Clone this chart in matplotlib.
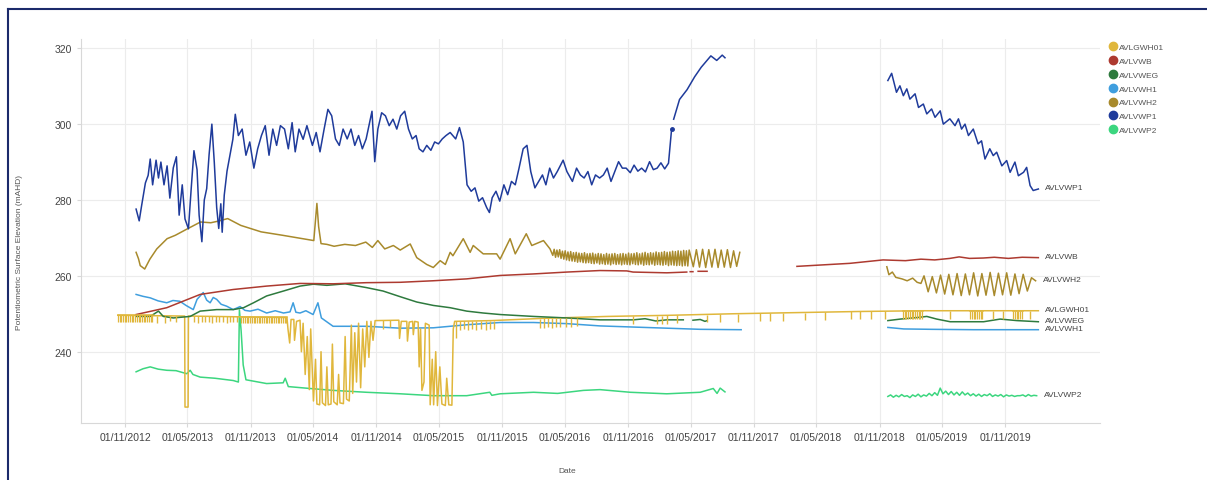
import numpy as np
import pandas as pd
import matplotlib
matplotlib.use("Agg")
import matplotlib.pyplot as plt
from matplotlib.lines import Line2D

plt.rcParams["font.family"] = ["Liberation Sans", "DejaVu Sans"]

# --- Data: (date, mAHD), None breaks the line ---
wp1 = [
    ("2012-12-03", 277.6), ("2012-12-12", 274.5), ("2012-12-19", 278.5), ("2012-12-30", 284.5),
    ("2013-01-07", 286.5), ("2013-01-13", 290.8), ("2013-01-20", 284.0), ("2013-01-30", 290.5),
    ("2013-02-06", 285.8), ("2013-02-13", 290.0), ("2013-02-22", 284.0), ("2013-03-03", 289.0),
    ("2013-03-11", 280.5), ("2013-03-21", 288.5), ("2013-03-30", 291.4), ("2013-04-07", 276.0),
    ("2013-04-16", 284.0), ("2013-04-24", 275.0), ("2013-05-04", 272.4), ("2013-05-12", 283.0),
    ("2013-05-20", 293.0), ("2013-05-29", 288.0), ("2013-06-04", 276.0), ("2013-06-12", 269.0),
    ("2013-06-19", 280.0), ("2013-06-26", 283.0), ("2013-07-03", 292.0), ("2013-07-11", 300.0),
    ("2013-07-18", 290.0), ("2013-07-25", 278.0), ("2013-07-31", 272.5), ("2013-08-06", 279.0),
    ("2013-08-10", 271.5), ("2013-08-16", 281.3), ("2013-08-24", 287.6), ("2013-09-02", 292.0),
    ("2013-09-10", 296.0), ("2013-09-17", 302.6), ("2013-09-26", 297.0), ("2013-10-07", 298.7),
    ("2013-10-18", 291.8), ("2013-10-29", 295.3), ("2013-11-10", 288.4), ("2013-11-21", 293.5),
    ("2013-12-02", 297.0), ("2013-12-13", 299.6), ("2013-12-24", 291.8), ("2014-01-04", 298.7),
    ("2014-01-15", 294.4), ("2014-01-26", 299.6), ("2014-02-07", 298.7), ("2014-02-18", 293.5),
    ("2014-03-01", 300.4), ("2014-03-10", 292.7), ("2014-03-21", 298.7), ("2014-04-02", 296.0),
    ("2014-04-13", 299.6), ("2014-04-29", 294.4), ("2014-05-10", 297.8), ("2014-05-21", 292.7),
    ("2014-06-02", 298.7), ("2014-06-13", 303.9), ("2014-06-24", 302.2), ("2014-07-05", 296.1),
    ("2014-07-16", 294.4), ("2014-07-27", 298.7), ("2014-08-08", 296.1), ("2014-08-19", 298.7),
    ("2014-08-30", 294.4), ("2014-09-10", 297.0), ("2014-09-21", 293.5), ("2014-10-02", 296.1),
    ("2014-10-19", 303.4), ("2014-10-27", 290.1), ("2014-11-05", 298.7), ("2014-11-16", 303.0),
    ("2014-11-27", 302.2), ("2014-12-08", 299.6), ("2014-12-19", 301.3), ("2014-12-30", 298.7),
    ("2015-01-10", 302.2), ("2015-01-22", 303.4), ("2015-02-02", 298.7), ("2015-02-13", 296.1),
    ("2015-02-24", 297.0), ("2015-03-05", 293.5), ("2015-03-16", 292.7), ("2015-03-27", 294.4),
    ("2015-04-08", 293.1), ("2015-04-19", 295.3), ("2015-04-30", 294.8), ("2015-05-11", 296.1),
    ("2015-05-22", 297.0), ("2015-06-03", 297.8), ("2015-06-19", 296.1), ("2015-06-30", 299.1),
    ("2015-07-11", 295.3), ("2015-07-22", 284.0), ("2015-08-03", 282.3), ("2015-08-14", 283.2),
    ("2015-08-25", 279.7), ("2015-09-05", 280.6), ("2015-09-17", 278.0), ("2015-09-25", 276.7),
    ("2015-10-03", 280.6), ("2015-10-14", 282.3), ("2015-10-25", 279.7), ("2015-11-06", 284.0),
    ("2015-11-17", 281.4), ("2015-11-28", 284.9), ("2015-12-09", 284.0), ("2015-12-20", 288.4),
    ("2016-01-01", 293.5), ("2016-01-12", 294.4), ("2016-01-23", 287.5), ("2016-02-04", 283.2),
    ("2016-02-15", 284.9), ("2016-02-26", 286.6), ("2016-03-07", 284.0), ("2016-03-18", 288.4),
    ("2016-03-29", 285.8), ("2016-04-09", 287.5), ("2016-04-26", 290.5), ("2016-05-07", 287.5),
    ("2016-05-23", 284.9), ("2016-06-04", 288.4), ("2016-06-15", 286.6), ("2016-06-26", 285.8),
    ("2016-07-07", 287.5), ("2016-07-18", 284.0), ("2016-07-29", 286.6), ("2016-08-10", 285.8),
    ("2016-08-21", 286.6), ("2016-09-01", 288.4), ("2016-09-12", 284.9), ("2016-09-23", 287.5),
    ("2016-10-04", 290.1), ("2016-10-15", 288.4), ("2016-10-26", 288.4), ("2016-11-07", 287.2),
    ("2016-11-18", 289.2), ("2016-11-29", 287.6), ("2016-12-10", 288.4), ("2016-12-21", 287.4),
    ("2017-01-02", 290.1), ("2017-01-13", 288.0), ("2017-01-24", 288.4), ("2017-02-04", 289.8),
    ("2017-02-15", 288.2), ("2017-02-26", 289.7), ("2017-03-07", 298.7), (None, None),
    ("2017-03-13", 301.3), ("2017-03-30", 306.5), ("2017-04-21", 309.1), ("2017-05-13", 312.5),
    ("2017-06-01", 315.0), ("2017-06-29", 318.0), ("2017-07-16", 316.8), ("2017-08-01", 318.2),
    ("2017-08-09", 317.5), (None, None),
    ("2018-11-25", 311.5), ("2018-12-06", 313.4), ("2018-12-20", 308.4), ("2018-12-30", 310.1),
    ("2019-01-09", 307.5), ("2019-01-19", 309.3), ("2019-01-28", 306.6), ("2019-02-12", 308.0),
    ("2019-02-22", 304.4), ("2019-03-08", 305.3), ("2019-03-18", 302.7), ("2019-04-01", 304.0),
    ("2019-04-11", 301.8), ("2019-04-26", 303.5), ("2019-05-05", 300.0), ("2019-05-24", 301.4),
    ("2019-06-08", 299.6), ("2019-06-18", 301.4), ("2019-06-27", 298.7), ("2019-07-07", 300.0),
    ("2019-07-17", 297.0), ("2019-07-31", 298.7), ("2019-08-14", 294.8), ("2019-08-24", 295.6),
    ("2019-09-03", 290.8), ("2019-09-17", 293.5), ("2019-09-27", 291.7), ("2019-10-07", 292.6),
    ("2019-10-22", 289.0), ("2019-11-05", 290.4), ("2019-11-15", 287.3), ("2019-11-29", 290.0),
    ("2019-12-09", 286.4), ("2019-12-24", 287.3), ("2020-01-02", 288.6), ("2020-01-12", 283.8),
    ("2020-01-21", 282.5), ("2020-02-05", 282.9),
]
wp1_dot = ("2017-03-08", 298.7)

wh2_early = [
    ("2012-12-03", 266.2), ("2012-12-10", 264.5), ("2012-12-15", 262.7), ("2012-12-28", 261.8),
    ("2013-01-12", 264.4), ("2013-02-01", 267.1), ("2013-03-03", 269.8), ("2013-03-27", 270.7),
    ("2013-05-01", 272.4), ("2013-06-08", 274.2), ("2013-07-08", 274.0), ("2013-07-28", 274.4),
    ("2013-08-26", 275.1), ("2013-10-03", 273.3), ("2013-12-01", 271.6), ("2014-02-01", 270.7),
    ("2014-04-01", 269.8), ("2014-05-03", 269.3), ("2014-05-12", 279.1), ("2014-05-17", 273.0),
    ("2014-05-24", 268.5), ("2014-06-10", 268.3), ("2014-07-01", 267.8), ("2014-08-01", 268.3),
    ("2014-09-01", 268.0), ("2014-10-01", 268.9), ("2014-10-20", 267.5), ("2014-11-05", 269.3),
    ("2014-11-25", 267.1), ("2014-12-20", 268.0), ("2015-01-09", 266.8), ("2015-02-07", 268.4),
    ("2015-02-26", 264.8), ("2015-03-27", 263.0), ("2015-04-15", 262.2), ("2015-05-05", 264.0),
    ("2015-05-20", 263.0), ("2015-06-03", 266.2), ("2015-06-11", 265.3), ("2015-07-11", 269.8),
    ("2015-07-31", 266.2), ("2015-08-09", 268.0), ("2015-09-07", 265.8), ("2015-10-16", 265.8),
    ("2015-10-26", 264.4), ("2015-11-24", 269.8), ("2015-12-09", 265.8), ("2016-01-10", 271.1),
    ("2016-01-26", 268.0), ("2016-02-29", 269.3), ("2016-03-19", 267.1),
]
wh2_band = [  # every 4 days from 2016-03-27
    265.4, 267.0, 264.9, 266.8, 265.0, 266.9, 264.6, 266.5, 264.4, 266.6,
    264.2, 266.3, 264.0, 266.4, 263.9, 266.1, 263.8, 266.2, 263.6, 266.0,
    263.7, 265.9, 263.5, 266.1, 263.4, 265.8, 263.5, 265.9, 263.3, 266.0,
    263.2, 265.7, 263.4, 265.9, 263.1, 265.8, 263.2, 265.6, 263.0, 265.9,
    263.1, 265.7, 262.9, 265.8, 263.2, 265.9, 263.0, 265.6, 263.1, 265.8,
    262.9, 265.9, 263.1, 265.7, 263.0, 266.0, 262.9, 265.8, 263.2, 265.9,
    263.0, 266.1, 262.9, 265.8, 263.1, 266.0, 262.8, 266.2, 263.0, 265.9,
    262.9, 266.1, 263.1, 266.0, 262.8, 266.3, 263.0, 266.1, 262.9, 266.2,
    262.8, 266.4, 263.0, 266.2, 262.7, 266.3, 262.9, 266.5, 262.8, 266.4,
    262.7, 266.6, 262.8, 266.5, 262.6, 266.7, 262.7, 266.6, 262.6, 266.8,
]
wh2_zig = [  # every 9 days from 2017-05-09
    262.4, 266.9, 262.3, 267.0, 262.2, 266.9, 262.3, 267.0,
    262.2, 266.8, 262.3, 266.9, 262.2, 266.6, 262.5, 266.2,
]
wh2_late = [
    ("2018-11-22", 262.4), ("2018-11-28", 260.3), ("2018-12-08", 261.0), ("2018-12-18", 259.6),
    ("2019-01-05", 259.2), ("2019-01-20", 258.7), ("2019-02-05", 259.4), ("2019-02-18", 258.3),
    ("2019-03-01", 258.0),
]
wh2_late_zig = [  # every 12 days from 2019-03-10
    260.0, 255.8, 259.8, 255.5, 260.2, 255.2, 260.4, 255.0, 260.6, 254.8,
    260.5, 255.0, 260.8, 254.7, 260.6, 254.9, 260.9, 254.8, 260.7, 255.0,
    260.8, 254.9, 260.5, 255.3, 260.4, 256.0, 259.5, 258.7,
]

wb = [
    ("2012-12-03", 249.8), ("2013-03-02", 251.6), ("2013-06-07", 255.1), ("2013-09-11", 256.4),
    ("2013-12-17", 257.3), ("2014-03-24", 258.0), ("2014-06-28", 257.9), ("2014-10-03", 258.2),
    ("2015-01-09", 258.3), ("2015-04-14", 258.7), ("2015-07-21", 259.2), ("2015-10-26", 260.1),
    ("2016-01-30", 260.5), ("2016-05-07", 261.0), ("2016-08-11", 261.4), ("2016-10-28", 261.3),
    ("2016-11-15", 261.0), ("2017-02-21", 260.8), ("2017-04-20", 261.0), (None, None),
    ("2017-04-30", 261.1), ("2017-05-08", 261.1), (None, None),
    ("2017-05-23", 261.2), ("2017-06-18", 261.2), (None, None),
    ("2018-03-06", 262.5), ("2018-08-07", 263.3), ("2018-11-11", 264.2), ("2019-01-15", 264.0),
    ("2019-03-01", 264.4), ("2019-04-10", 264.2), ("2019-05-24", 264.6), ("2019-06-20", 265.0),
    ("2019-07-20", 264.6), ("2019-08-29", 264.7), ("2019-09-30", 264.9), ("2019-11-10", 264.6),
    ("2019-12-20", 264.9), ("2020-02-05", 264.8),
]

weg = [
    ("2012-12-03", 249.3), ("2013-01-13", 249.3), ("2013-02-06", 250.7), ("2013-02-20", 249.3),
    ("2013-03-21", 248.9), ("2013-05-09", 249.3), ("2013-06-07", 250.7), ("2013-07-25", 251.1),
    ("2013-09-11", 251.1), ("2013-10-11", 251.6), ("2013-11-09", 252.9), ("2013-12-17", 254.7),
    ("2014-02-04", 256.0), ("2014-03-24", 257.3), ("2014-05-02", 257.8), ("2014-06-10", 257.5),
    ("2014-08-02", 257.9), ("2014-10-03", 256.9), ("2014-11-20", 256.0), ("2015-01-09", 254.5),
    ("2015-02-26", 253.1), ("2015-04-15", 252.2), ("2015-06-03", 251.6), ("2015-07-21", 250.7),
    ("2015-09-07", 250.2), ("2015-10-26", 249.8), ("2016-01-31", 249.3), ("2016-05-07", 248.9),
    ("2016-08-11", 248.4), ("2016-11-16", 248.4), ("2016-12-20", 248.7), ("2017-01-20", 248.1),
    ("2017-02-21", 248.4), ("2017-04-10", 248.4), (None, None),
    ("2017-05-08", 248.3), ("2017-05-29", 248.5), ("2017-06-12", 248.0), ("2017-06-18", 248.2),
    (None, None),
    ("2018-11-25", 248.2), ("2018-12-31", 248.6), ("2019-02-17", 249.0), ("2019-03-18", 249.3),
    ("2019-04-16", 248.6), ("2019-05-25", 247.9), ("2019-08-30", 247.9), ("2019-10-17", 248.6),
    ("2019-12-05", 248.2), ("2020-02-05", 247.9),
]

wh1 = [
    ("2012-12-03", 255.1), ("2012-12-23", 254.6), ("2013-01-13", 254.2), ("2013-02-05", 253.4),
    ("2013-03-02", 252.9), ("2013-03-20", 253.5), ("2013-04-09", 253.3), ("2013-04-27", 252.2),
    ("2013-05-18", 251.1), ("2013-05-29", 253.8), ("2013-06-07", 254.7), ("2013-06-16", 255.6),
    ("2013-06-26", 253.6), ("2013-07-06", 252.9), ("2013-07-15", 254.3), ("2013-07-25", 253.8),
    ("2013-08-07", 252.5), ("2013-08-23", 252.0), ("2013-09-11", 251.1), ("2013-10-01", 251.9),
    ("2013-10-15", 250.9), ("2013-10-30", 250.7), ("2013-11-22", 251.2), ("2013-12-17", 250.2),
    ("2014-01-11", 250.8), ("2014-02-04", 250.2), ("2014-02-23", 250.5), ("2014-03-04", 252.9),
    ("2014-03-12", 250.4), ("2014-03-24", 250.2), ("2014-04-10", 250.8), ("2014-05-01", 249.8),
    ("2014-05-15", 252.9), ("2014-05-25", 248.9), ("2014-06-28", 246.7), ("2014-10-03", 246.7),
    ("2015-01-09", 246.2), ("2015-04-15", 246.3), ("2015-07-21", 247.1), ("2015-10-26", 247.7),
    ("2016-01-31", 247.7), ("2016-05-07", 247.4), ("2016-08-11", 246.8), ("2016-11-16", 246.5),
    ("2017-02-21", 246.2), ("2017-05-29", 245.9), ("2017-09-25", 245.8), (None, None),
    ("2018-11-25", 246.4), ("2019-01-10", 246.0), ("2019-04-01", 245.9), ("2019-08-01", 245.8),
    ("2020-02-05", 245.8),
]

wp2 = [
    ("2012-12-03", 234.7), ("2012-12-23", 235.5), ("2013-01-13", 236.0), ("2013-02-05", 235.4),
    ("2013-03-02", 235.1), ("2013-03-29", 235.0), ("2013-04-29", 234.2), ("2013-05-09", 235.1),
    ("2013-05-17", 234.0), ("2013-06-07", 233.3), ("2013-07-20", 233.0), ("2013-09-11", 232.4),
    ("2013-09-26", 232.0), ("2013-09-29", 251.0), ("2013-10-04", 245.5), ("2013-10-10", 236.5),
    ("2013-10-18", 232.6), ("2013-12-17", 231.6), ("2014-02-03", 231.8), ("2014-02-09", 233.0),
    ("2014-02-18", 230.8), ("2014-04-22", 230.3), ("2014-06-28", 229.8), ("2014-10-03", 229.3),
    ("2015-01-09", 228.9), ("2015-04-15", 228.4), ("2015-07-21", 228.4), ("2015-09-26", 229.3),
    ("2015-10-02", 228.5), ("2015-10-26", 228.9), ("2016-01-31", 229.3), ("2016-04-10", 229.0),
    ("2016-06-24", 229.8), ("2016-08-11", 230.0), ("2016-11-07", 229.3), ("2017-02-21", 228.9),
    ("2017-05-29", 229.3), ("2017-07-06", 230.3), ("2017-07-17", 229.0), ("2017-07-26", 230.4),
    ("2017-08-09", 229.4),
]
wp2_late = [  # every 8 days from 2018-11-25
    228.2, 228.6, 228.0, 228.5, 228.1, 228.7, 228.2, 228.4, 227.9, 228.6,
    228.2, 228.8, 228.1, 228.6, 228.3, 229.0, 228.4, 229.2, 228.5, 230.4,
    228.9, 229.6, 228.7, 229.5, 228.6, 229.3, 228.5, 229.4, 228.6, 229.1,
    228.4, 228.9, 228.3, 228.8, 228.2, 228.7, 228.4, 228.9, 228.2, 228.6,
    228.3, 228.7, 228.1, 228.6, 228.3, 228.5, 228.2, 228.4, 228.4, 228.6,
    228.2, 228.7, 228.3, 228.5, 228.4,
]

gwh01 = [
    ("2012-10-11", 249.6), ("2013-04-23", 249.4), ("2013-04-24", 225.4), ("2013-05-03", 225.4),
    ("2013-05-04", 249.4), ("2014-02-14", 249.0),
    ("2014-02-17", 246.0), ("2014-02-22", 242.3), ("2014-02-26", 248.5), ("2014-03-06", 248.5),
    ("2014-03-08", 243.0), ("2014-03-14", 248.0), ("2014-03-24", 248.3), ("2014-03-28", 240.0),
    ("2014-04-02", 247.5), ("2014-04-08", 234.0), ("2014-04-14", 244.0), ("2014-04-20", 230.0),
    ("2014-04-24", 246.0), ("2014-05-02", 227.0), ("2014-05-08", 238.0), ("2014-05-12", 226.2),
    ("2014-05-20", 226.0), ("2014-05-24", 240.0), ("2014-05-28", 226.5), ("2014-06-06", 225.8),
    ("2014-06-10", 236.0), ("2014-06-14", 226.0), ("2014-06-22", 226.2), ("2014-06-26", 242.0),
    ("2014-06-30", 226.8), ("2014-07-10", 226.0), ("2014-07-14", 234.0), ("2014-07-18", 226.5),
    ("2014-07-28", 226.3), ("2014-08-02", 244.0), ("2014-08-06", 227.5), ("2014-08-14", 227.0),
    ("2014-08-20", 247.0), ("2014-08-24", 229.0), ("2014-08-30", 245.0), ("2014-09-04", 232.0),
    ("2014-09-10", 247.5), ("2014-09-16", 230.5), ("2014-09-22", 246.0), ("2014-09-28", 236.0),
    ("2014-10-04", 248.0), ("2014-10-10", 238.5), ("2014-10-16", 248.0), ("2014-10-22", 243.0),
    ("2014-10-28", 248.2), ("2015-01-05", 248.3),
    ("2015-01-07", 243.5), ("2015-01-12", 248.0), ("2015-01-28", 248.0), ("2015-01-30", 242.8),
    ("2015-02-04", 247.8), ("2015-02-14", 248.0), ("2015-02-16", 244.5), ("2015-02-20", 248.0),
    ("2015-03-02", 247.8), ("2015-03-05", 236.0), ("2015-03-09", 246.0), ("2015-03-13", 229.8),
    ("2015-03-19", 232.0), ("2015-03-23", 247.5), ("2015-04-03", 247.0), ("2015-04-06", 226.0),
    ("2015-04-12", 238.0), ("2015-04-16", 226.0), ("2015-04-22", 240.0), ("2015-04-27", 225.8),
    ("2015-05-04", 236.0), ("2015-05-10", 226.2), ("2015-05-20", 225.8), ("2015-05-24", 233.0),
    ("2015-05-30", 226.0), ("2015-06-08", 225.9), ("2015-06-12", 246.0), ("2015-06-16", 248.0),
    ("2015-10-01", 248.2), ("2016-03-01", 248.8), ("2016-09-01", 249.3), ("2017-03-01", 249.6),
    ("2017-09-01", 250.0), ("2018-03-01", 250.3), ("2018-09-01", 250.6), ("2019-03-01", 250.8),
    ("2020-02-05", 250.8),
]
# short downward spikes of AVLGWH01: (date, top, bottom)
gwh01_teeth = [
    ("2013-02-01", 249.5, 247.6), ("2013-02-25", 249.5, 247.5), ("2013-03-12", 249.5, 248.0),
    ("2013-03-28", 249.5, 247.8), ("2013-05-21", 249.4, 247.8), ("2013-06-01", 249.4, 247.6),
    ("2013-06-13", 249.4, 247.9), ("2013-06-21", 249.4, 247.7), ("2013-07-03", 249.4, 247.8),
    ("2013-07-12", 249.4, 247.6), ("2013-07-23", 249.4, 247.9), ("2013-08-01", 249.4, 247.7),
    ("2013-08-13", 249.4, 247.8), ("2013-08-24", 249.4, 247.6), ("2013-09-02", 249.4, 247.9),
    ("2013-09-11", 249.4, 247.7), ("2013-09-22", 249.4, 247.8),
    ("2014-11-20", 248.3, 246.0), ("2014-12-10", 248.3, 246.5),
    ("2015-06-20", 248.0, 243.5), ("2015-07-02", 248.0, 245.8), ("2015-07-13", 248.0, 245.9),
    ("2015-07-25", 248.1, 245.8), ("2015-08-06", 248.1, 246.0), ("2015-08-17", 248.1, 245.8),
    ("2015-09-01", 248.1, 245.9), ("2015-09-15", 248.2, 245.8), ("2015-09-27", 248.2, 246.0),
    ("2015-10-09", 248.2, 245.9), ("2016-02-19", 248.7, 246.2), ("2016-03-02", 248.8, 246.3),
    ("2016-03-13", 248.8, 246.4), ("2016-03-25", 248.8, 246.2), ("2016-04-06", 248.9, 246.5),
    ("2016-04-17", 248.9, 246.4), ("2016-05-05", 248.9, 246.6), ("2016-05-19", 249.0, 246.5),
    ("2016-06-06", 249.0, 246.7), ("2016-11-15", 249.4, 247.2), ("2017-01-24", 249.5, 247.3),
    ("2017-02-07", 249.5, 247.4), ("2017-02-22", 249.6, 247.3), ("2017-03-23", 249.6, 247.5),
    ("2017-06-18", 249.8, 247.7), ("2017-07-26", 249.9, 247.8), ("2017-09-16", 250.0, 247.9),
    ("2017-11-19", 250.1, 248.0), ("2017-12-18", 250.1, 248.1), ("2018-01-25", 250.2, 248.0),
    ("2018-03-30", 250.3, 248.3), ("2018-05-27", 250.4, 248.3), ("2018-08-10", 250.6, 248.6),
    ("2018-09-05", 250.6, 248.6), ("2018-10-07", 250.7, 248.6), ("2018-11-17", 250.7, 248.6),
    ("2019-05-24", 250.8, 248.7), ("2019-09-26", 250.8, 248.7), ("2019-10-25", 250.8, 248.7),
    ("2020-01-12", 250.8, 248.7),
]
# stretches with a spike every few days: (start, end, top, bottom)
gwh01_dense = [
    ("2012-10-11", "2013-01-22", 249.6, 247.7),
    ("2013-10-05", "2014-02-14", 249.2, 247.5),
    ("2019-01-08", "2019-03-07", 250.8, 248.6),
    ("2019-07-22", "2019-08-29", 250.8, 248.6),
    ("2019-11-24", "2019-12-23", 250.8, 248.6),
]

names = ["AVLGWH01", "AVLVWB", "AVLVWEG", "AVLVWH1", "AVLVWH2", "AVLVWP1", "AVLVWP2"]
colors = {
    "AVLGWH01": "#e0b73c", "AVLVWB": "#ad3a30", "AVLVWEG": "#2e7a3e", "AVLVWH1": "#3f9ede",
    "AVLVWH2": "#a88a2c", "AVLVWP1": "#1f3b9b", "AVLVWP2": "#3cd67f",
}
x_ticks = pd.date_range("2012-11-01", "2019-11-01", freq="6MS")
y_ticks = [240, 260, 280, 300, 320]


def split(pairs):
    d = pd.to_datetime([a if a is not None else pd.NaT for a, _ in pairs])
    v = np.array([np.nan if b is None else b for _, b in pairs], dtype=float)
    # a None row sits at the next date so the line simply breaks there
    d = pd.Series(d).bfill().values
    return d, v


def regular(start, vals, step):
    return pd.date_range(start, periods=len(vals), freq=step).values, np.array(vals, dtype=float)


def join(*parts):
    return np.concatenate([p[0] for p in parts]), np.concatenate([p[1] for p in parts])


gap = (np.array([np.datetime64("2018-01-01")]), np.array([np.nan]))
series = {
    "AVLVWP1": split(wp1),
    "AVLVWH2": join(split(wh2_early), regular("2016-03-27", wh2_band, "4D"),
                    regular("2017-05-09", wh2_zig, "9D"), gap, split(wh2_late),
                    regular("2019-03-10", wh2_late_zig, "12D")),
    "AVLVWB": split(wb),
    "AVLVWEG": split(weg),
    "AVLVWH1": split(wh1),
    "AVLVWP2": join(split(wp2), gap, regular("2018-11-25", wp2_late, "8D")),
    "AVLGWH01": split(gwh01),
}

fig = plt.figure(figsize=(12.07, 4.81), dpi=100)
ax = fig.add_axes([81 / 1207, 1 - 424 / 481, 1019 / 1207, 384 / 481])

draw_order = ["AVLVWP2", "AVLVWH1", "AVLGWH01", "AVLVWEG", "AVLVWB", "AVLVWH2", "AVLVWP1"]
for name in draw_order:
    d, v = series[name]
    ax.plot(d, v, color=colors[name], lw=1.1, solid_joinstyle="round", zorder=3)

c = colors["AVLGWH01"]
td = pd.to_datetime([t[0] for t in gwh01_teeth])
ax.vlines(td, [t[2] for t in gwh01_teeth], [t[1] for t in gwh01_teeth], color=c, lw=1.0, zorder=3)
for a, b, top, bot in gwh01_dense:
    dd = pd.date_range(a, b, freq="5D")
    ax.vlines(dd, bot, top, color=c, lw=0.9, zorder=3)
    ax.plot(pd.to_datetime([a, b]), [top, top], color=c, lw=1.1, zorder=3)

ax.plot(pd.to_datetime([wp1_dot[0]]), [wp1_dot[1]], "o", ms=2.5, color=colors["AVLVWP1"], zorder=4)

# series names at the line ends
for name in names:
    d, v = series[name]
    ok = ~np.isnan(v)
    ax.annotate(name, xy=(d[ok][-1], v[ok][-1]), xytext=(5, 1), textcoords="offset points",
                va="center", ha="left", fontsize=6, color="#444444", annotation_clip=False)

ax.set_xlim(pd.Timestamp("2012-06-26"), pd.Timestamp("2020-08-02"))
ax.set_ylim(221.2, 322.45)
ax.set_xticks(x_ticks)
ax.set_xticklabels([t.strftime("%d/%m/%Y") for t in x_ticks])
ax.set_yticks(y_ticks)
ax.tick_params(axis="both", labelsize=7.5, labelcolor="#444444", length=3, color="#d8d8d8")
ax.grid(True, color="#ececec", lw=0.8)
ax.set_axisbelow(True)
for s in ["top", "right"]:
    ax.spines[s].set_visible(False)
for s in ["left", "bottom"]:
    ax.spines[s].set_color("#d8d8d8")
    ax.spines[s].set_linewidth(0.8)

fig.text(20 / 1207, 1 - 252 / 481, "Potentiometric Surface Elevation (mAHD)", rotation=90,
         ha="center", va="center", fontsize=6, color="#555555")
fig.text(567 / 1207, 1 - 472 / 481, "Date", ha="center", va="center", fontsize=6, color="#555555")

handles = [Line2D([], [], marker="o", ls="none", ms=6, color=colors[n]) for n in names]
fig.legend(handles, names, loc="upper left", bbox_to_anchor=(1106 / 1207, 1 - 41 / 481),
           frameon=False, fontsize=6, handlelength=0.8, handletextpad=0.4, labelspacing=0.72,
           borderaxespad=0, labelcolor="#555555")

# navy frame around the figure (right and bottom edges fall outside the crop)
frame = "#1b2a6b"
fig.add_artist(Line2D([8 / 1207, 8 / 1207], [0, 1 - 10 / 481], transform=fig.transFigure,
                      color=frame, lw=1.5))
fig.add_artist(Line2D([8 / 1207, 1], [1 - 10 / 481, 1 - 10 / 481], transform=fig.transFigure,
                      color=frame, lw=1.5))

fig.savefig("out.png", dpi=100)
